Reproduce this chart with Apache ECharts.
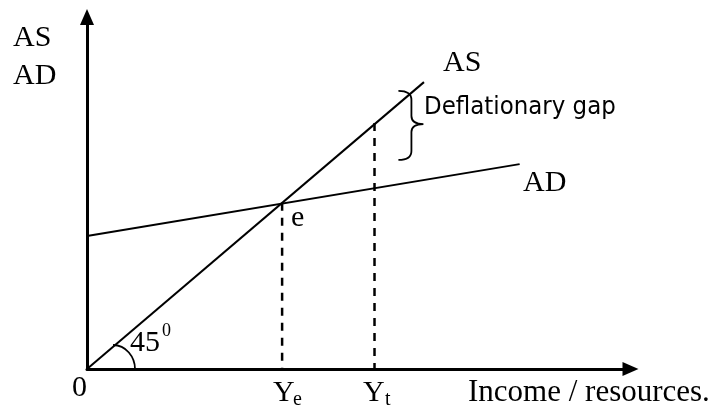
<!DOCTYPE html>
<html>
<head>
<meta charset="utf-8">
<script src="https://cdn.jsdelivr.net/npm/echarts@6/dist/echarts.min.js"></script>
<style>
  html, body { margin: 0; padding: 0; background: #fff; }
  #main { width: 715px; height: 412px; }
</style>
</head>
<body>
<div id="main"></div>
<script>
// AS / AD diagram (x: income 0..100, y: 0..100)
const asX = [0, 62];
const asY = [0, 81.5];
const adX = [0, 79.6];
const adY = [37.8, 58.2];
const yeX = 35.9;   // equilibrium income
const yeTop = 47.2;
const ytX = 52.9;   // full-employment income
const ytTop = 69.9;
// deflationary gap brace: left x, tip x, top y, bottom y
const braceX = [57.3, 61.9];
const braceY = [79.0, 59.4];

const chartDom = document.getElementById("main");
const myChart = echarts.init(chartDom);

const serif = "'Liberation Serif', 'Times New Roman', serif";
function txt(text, x, y, size, family) {
  return {
    type: "text",
    x: x,
    y: y,
    silent: true,
    style: {
      text: text,
      font: size + "px " + (family || serif),
      fill: "#000",
      align: "left",
      verticalAlign: "middle",
    },
  };
}

const black = { color: "#000", width: 2 };
const dashed = { color: "#000", width: 2.5, type: [8, 7] };

function axisOf() {
  return {
    type: "value",
    min: 0,
    max: 100,
    axisLine: {
      show: true,
      symbol: ["none", "triangle"],
      symbolSize: [14, 16],
      lineStyle: { color: "#000", width: 3 },
    },
    axisTick: { show: false },
    axisLabel: { show: false },
    splitLine: { show: false },
  };
}

const option = {
  animation: false,
  backgroundColor: "#fff",
  grid: { left: 87, right: 84.5, top: 17, bottom: 43 },
  xAxis: axisOf(),
  yAxis: axisOf(),
  series: [
    {
      name: "AS",
      type: "line",
      symbol: "none",
      lineStyle: black,
      data: asX.map((x, i) => [x, asY[i]]),
    },
    {
      name: "AD",
      type: "line",
      symbol: "none",
      lineStyle: black,
      data: adX.map((x, i) => [x, adY[i]]),
    },
    {
      name: "Ye",
      type: "line",
      symbol: "none",
      lineStyle: dashed,
      data: [[yeX, yeTop], [yeX, 0]],
    },
    {
      name: "Yt",
      type: "line",
      symbol: "none",
      lineStyle: dashed,
      data: [[ytX, ytTop], [ytX, 0]],
    },
    {
      // brace "}" for the gap
      type: "custom",
      silent: true,
      data: [[braceX[0], braceY[0]]],
      renderItem: (params, api) => {
        const a = api.coord([braceX[0], braceY[0]]);
        const b = api.coord([braceX[1], braceY[1]]);
        const xl = a[0], xr = b[0], xm = xl + (xr - xl) * 0.52;
        const yt = a[1], yb = b[1], ym = yt + (yb - yt) * 0.48;
        const d =
          "M" + xl + " " + yt +
          " Q" + xm + " " + yt + " " + xm + " " + (yt + 9) +
          " L" + xm + " " + (ym - 8) +
          " Q" + xm + " " + ym + " " + xr + " " + ym +
          " Q" + xm + " " + ym + " " + xm + " " + (ym + 8) +
          " L" + xm + " " + (yb - 9) +
          " Q" + xm + " " + yb + " " + xl + " " + yb;
        return {
          type: "path",
          shape: { pathData: d },
          style: { fill: "none", stroke: "#000", lineWidth: 1.8 },
        };
      },
    },
    {
      // 45 degree angle mark
      type: "custom",
      silent: true,
      data: [[0, 0]],
      renderItem: (params, api) => {
        const o = api.coord([0, 0]);
        const p1 = [o[0] + 26, o[1] - 24];
        const p2 = [o[0] + 48, o[1]];
        const d =
          "M" + p1[0] + " " + p1[1] +
          " C" + (p1[0] + 13) + " " + p1[1] + " " + p2[0] + " " + (p2[1] - 12) + " " + p2[0] + " " + p2[1];
        return {
          type: "path",
          shape: { pathData: d },
          style: { fill: "none", stroke: "#000", lineWidth: 1.8 },
        };
      },
    },
  ],
  graphic: [
    txt("AS", 13, 38, 30),
    txt("AD", 13, 76, 30),
    txt("AS", 443, 63, 30),
    txt("AD", 523, 183, 30),
    txt("e", 291, 218, 30),
    txt("0", 72, 388, 30),
    txt("45", 130, 343, 30),
    txt("0", 162, 331, 18),
    txt("Y", 273, 393, 30),
    txt("e", 293, 400, 20),
    txt("Y", 363, 393, 30),
    txt("t", 385, 400, 20),
    txt("Income / resources.", 468, 393, 31),
    txt("Deflationary gap", 424, 107, 25.5, "'DejaVu Sans Condensed', 'DejaVu Sans', sans-serif"),
  ],
};

option && myChart.setOption(option);
</script>
</body>
</html>
